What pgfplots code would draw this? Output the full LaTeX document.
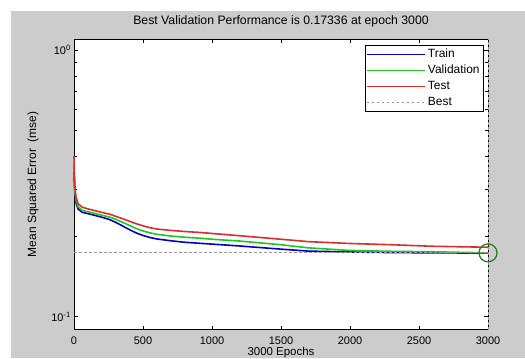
\documentclass[border=0pt]{standalone}
\usepackage{pgfplots}
\pgfplotsset{compat=1.18}
\usepackage{fontspec}
\setmainfont{Liberation Sans}
\definecolor{figgray}{gray}{0.8}
\definecolor{trainblue}{rgb}{0.0,0.0,0.78}
\definecolor{valgreen}{rgb}{0.12,0.78,0.12}
\definecolor{testred}{rgb}{0.85,0.18,0.18}
\definecolor{bestgreen}{rgb}{0.1,0.5,0.1}
\begin{document}
\begin{tikzpicture}[x=1bp,y=1bp]
\fill[white] (0,0) rectangle (525,358);
\fill[figgray] (11,0) rectangle (525,347);
\begin{axis}[
  at={(74bp,28.5bp)}, anchor=south west,
  scale only axis, width=414bp, height=290.5bp,
  font=\fontsize{12}{14.4}\selectfont,
  /pgf/number format/assume math mode=true,
  /pgf/number format/1000 sep={},
  ymode=log,
  xmin=0, xmax=3000, ymin=0.0894, ymax=1.1,
  xtick={0,500,...,3000},
  ytick={0.1,1}, yticklabels={10\textsuperscript{-1},10\textsuperscript{0}},
  minor ytick={0.2,0.3,0.4,0.5,0.6,0.7,0.8,0.9},
  tick align=inside, major tick length=4bp, minor tick length=3bp,
  every tick/.style={black, line width=0.5bp},
  axis line style={black, line width=0.7bp},
  axis background/.style={fill=white},
  clip=false,
  tick label style={font=\fontsize{11}{13}\selectfont},
  xticklabel style={anchor=base, yshift=-15bp},
  yticklabel style={anchor=east, xshift=-2bp, inner sep=1bp},
  title={Best Validation Performance is 0.17336 at epoch 3000},
  title style={at={(0.5,1)}, anchor=base, yshift=8.5bp, font=\fontsize{12.3}{14.4}\selectfont},
  xlabel={3000 Epochs},
  xlabel style={at={(axis description cs:0.5,-0.0895)}, anchor=base, font=\fontsize{11.5}{13}\selectfont},
  ylabel={Mean Squared Error~~(mse)},
  ylabel style={at={(axis description cs:-0.099,0.5)}, anchor=center},
  legend style={at={(0.988,0.979)}, anchor=north east, draw=black, fill=white,
    line width=0.5bp, inner sep=1bp, row sep=0bp,
    nodes={inner sep=2.2bp, text height=8.8bp, text depth=2.8bp},
    font=\fontsize{12}{14.4}\selectfont},
  legend cell align=left,
  legend image code/.code={\draw[#1] (0bp,0bp) -- (58bp,0bp);},
]
\addplot[trainblue, line width=1.6bp] coordinates {
(0,0.35) (3,0.31) (8,0.285) (15,0.266) (30,0.253) (60,0.246) (120,0.242)
(200,0.236) (260,0.231) (300,0.226) (350,0.219) (400,0.212) (450,0.206)
(500,0.2015) (550,0.198) (600,0.1955) (700,0.1925) (800,0.190) (900,0.1885)
(1000,0.187) (1200,0.184) (1500,0.179) (1700,0.176) (2000,0.1747)
(2300,0.1738) (2600,0.1734) (3000,0.1730)};
\addlegendentry{Train}
\addplot[valgreen, line width=1.6bp] coordinates {
(0,0.37) (3,0.32) (8,0.29) (15,0.272) (30,0.258) (60,0.250) (120,0.246)
(200,0.240) (260,0.236) (300,0.232) (350,0.226) (400,0.220) (450,0.214)
(500,0.2095) (550,0.206) (600,0.2035) (700,0.2005) (800,0.1985) (900,0.197)
(1000,0.195) (1200,0.192) (1500,0.186) (1700,0.181) (2000,0.177)
(2300,0.1757) (2600,0.1750) (3000,0.17336)};
\addlegendentry{Validation}
\addplot[testred, line width=1.6bp] coordinates {
(0,0.40) (3,0.34) (8,0.30) (15,0.28) (30,0.265) (60,0.257) (120,0.252)
(200,0.246) (260,0.242) (300,0.238) (350,0.233) (400,0.228) (450,0.223)
(500,0.219) (550,0.2155) (600,0.213) (700,0.2105) (800,0.2085) (900,0.207)
(1000,0.205) (1200,0.201) (1500,0.195) (1700,0.191) (2000,0.188)
(2300,0.186) (2600,0.1835) (3000,0.182)};
\addlegendentry{Test}
\addplot[gray!80, line width=0.8bp, dash pattern=on 2.5bp off 2.5bp] coordinates {(0,0.17336) (3000,0.17336)};
\addlegendentry{Best}
\addplot[gray!80, line width=0.8bp, dash pattern=on 2.5bp off 2.5bp, forget plot] coordinates {(3000,0.0894) (3000,1.1)};
\addplot[bestgreen, only marks, mark=o, mark size=9bp, mark options={line width=1.2bp}, forget plot] coordinates {(3000,0.17336)};
\end{axis}
\pgfresetboundingbox
\path[use as bounding box] (0,0) rectangle (525,358);
\end{tikzpicture}
\end{document}
